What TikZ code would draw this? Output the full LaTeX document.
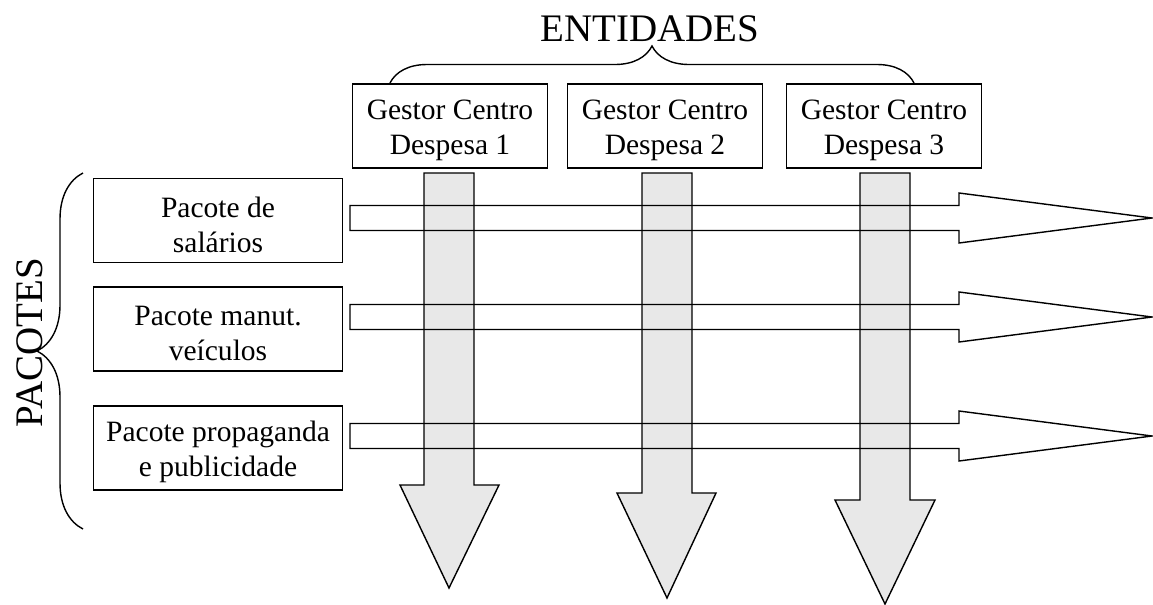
\documentclass[tikz,border=0pt]{standalone}
\usepackage{fontspec}
\setmainfont{Liberation Serif}
\usetikzlibrary{decorations.pathreplacing}
\newcommand{\topo}{\rule{0pt}{0.58cm}}

\begin{document}
\begin{tikzpicture}[x=0.02cm,y=-0.02cm,line width=0.8pt,
  caixa/.style={draw,minimum width=3.9cm,minimum height=1.68cm,inner sep=0pt,
    align=center,font=\fontsize{16.8}{19.9}\selectfont},
  pacote/.style={caixa,minimum width=4.98cm},
  chave/.style={decorate,decoration={brace,amplitude=#1}},
  titulo/.style={font=\fontsize{22.2}{26}\selectfont}]
\useasboundingbox (0,0) rectangle (1153,605);

\node[caixa] (g1) at (450,126) {\topo Gestor Centro\\Despesa 1};
\node[caixa] (g2) at (665,126) {\topo Gestor Centro\\Despesa 2};
\node[caixa] (g3) at (884,126) {\topo Gestor Centro\\Despesa 3};

\coordinate (e1) at (390,83);
\coordinate (e2) at (914,83);
\draw[chave=0.74cm] (e1) -- (e2);
\node[titulo,anchor=base] (ent) at (650,41) {ENTIDADES};

\node[pacote] (p1) at (218,220.5) {\topo Pacote de\\salários};
\node[pacote] (p2) at (218,329) {\topo Pacote manut.\\veículos};
\node[pacote] (p3) at (218,448) {\topo Pacote propaganda\\e publicidade};

\coordinate (c1) at (83,529);
\coordinate (c2) at (83,173);
\draw[chave=0.92cm] (c1) -- (c2);
\node[titulo,rotate=90,anchor=base] (pac) at (42,343) {PACOTES};

% setas das entidades
\draw[fill=gray!18] (424,173) -- (474,173) -- (474,485) -- (499,485) -- (449,588)
  -- (400,485) -- (424,485) -- cycle;
\draw[fill=gray!18] (642,173) -- (692,173) -- (692,493) -- (716,493) -- (667,598)
  -- (617,493) -- (642,493) -- cycle;
\draw[fill=gray!18] (860,173) -- (910,173) -- (910,500) -- (935,500) -- (885,604)
  -- (835,500) -- (860,500) -- cycle;

% setas dos pacotes
\draw (350,205.5) -- (959,205.5) -- (959,193) -- (1152,218) -- (959,243)
  -- (959,230.5) -- (350,230.5) -- cycle;
\draw (350,304.5) -- (959,304.5) -- (959,292) -- (1152,317) -- (959,342)
  -- (959,329.5) -- (350,329.5) -- cycle;
\draw (350,423.5) -- (959,423.5) -- (959,411) -- (1152,436) -- (959,461)
  -- (959,448.5) -- (350,448.5) -- cycle;
\end{tikzpicture}
\end{document}
